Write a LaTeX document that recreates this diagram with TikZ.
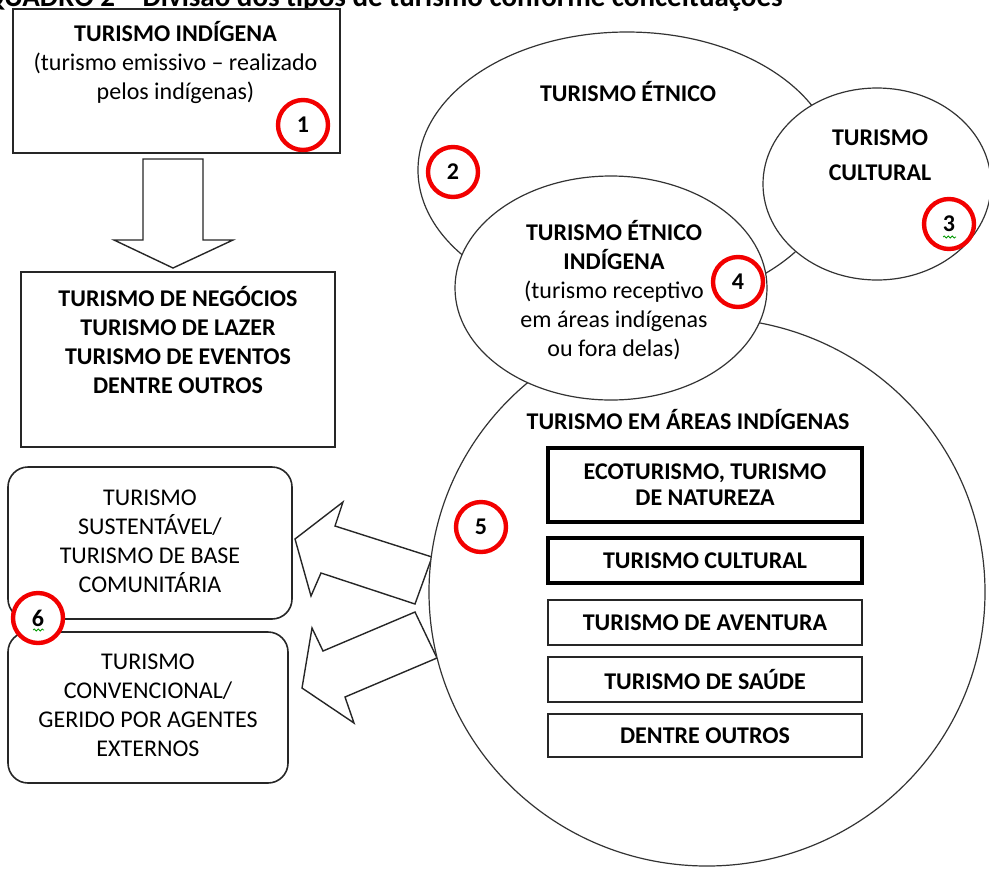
\documentclass[tikz,border=0pt]{standalone}
\usepackage{fontspec}
\setmainfont{Carlito}
\usetikzlibrary{shapes.geometric,decorations.pathmorphing}

\begin{document}
\begin{tikzpicture}[x=0.5pt,y=-0.5pt,
        every node/.style={font=\fontsize{12}{14.5}\selectfont, inner sep=0pt},
        caixa/.style={draw=black!85, line width=0.8pt, fill=white},
        grossa/.style={draw=black, line width=2pt, fill=white},
        arredondada/.style={draw=black!85, line width=0.8pt, fill=white, rounded corners=10pt},
        elipse/.style={ellipse, draw=black!80, line width=0.6pt, fill=white},
        seta/.style={draw=black!85, line width=0.7pt, fill=white, line join=miter},
        numero/.style={circle, draw=red!95!black, line width=2.2pt, fill=white,
                       minimum size=25pt, font=\fontsize{12}{14}\selectfont\bfseries},
        texto/.style={align=center},
        ondulado/.style={draw=green!60!black, line width=0.4pt, decorate,
                         decoration={snake, amplitude=0.5pt, segment length=2pt}}]

        \clip (0,0) rectangle (989,868);

        \node[anchor=base east, font=\fontsize{14.5}{16}\selectfont\bfseries] (titulo) at (783,6)
            {QUADRO 2 – Divisão dos tipos de turismo conforme conceituações};

        % lado esquerdo
        \node[caixa, minimum width=163.5pt, minimum height=72pt] (indigena) at (176.5,81) {};
        \node[texto] (tindigena) at (175.5,62.5)
            {\textbf{TURISMO INDÍGENA}\\(turismo emissivo – realizado\\pelos indígenas)};
        \node[numero] (n1) at (303,125) {1};

        \path[seta] (143,159) -- (203,159) -- (203,240) -- (233,240) -- (173,268)
            -- (114,240) -- (143,240) -- cycle;

        \node[caixa, minimum width=157pt, minimum height=87.5pt] (negocios) at (178,359.5) {};
        \node[texto, font=\fontsize{12}{14.5}\selectfont\bfseries] (tnegocios) at (178,340)
            {TURISMO DE NEGÓCIOS\\TURISMO DE LAZER\\TURISMO DE EVENTOS\\DENTRE OUTROS};

        % elipses de cima
        \node[elipse, minimum width=209pt, minimum height=138pt] (etnico) at (627,170) {};
        \node[font=\fontsize{12}{14}\selectfont\bfseries] (tetnico) at (628,92) {TURISMO ÉTNICO};
        \node[numero] (n2) at (453,172) {2};

        \node[elipse, minimum width=114pt, minimum height=96pt] (cultural) at (877,184) {};
        \node[texto, font=\fontsize{12}{17.5}\selectfont\bfseries] (tcultural) at (880,155)
            {TURISMO\\CULTURAL};
        \node[numero] (n3) at (949,224) {3};
        \path[ondulado] (943,237) -- (956,237);

        % setas para os dois modelos
        \path[seta] (432,557) -- (335,526) -- (343,502) -- (295,539) -- (311,596)
            -- (321,573) -- (415,604) -- cycle;
        \path[seta] (415,612) -- (323,651) -- (312,628) -- (302,688) -- (354,723)
            -- (345,697) -- (437,658) -- cycle;

        \node[arredondada, minimum width=142pt, minimum height=76pt] (sustentavel) at (150,543) {};
        \node[texto] (tsustentavel) at (150,541.5)
            {TURISMO\\SUSTENTÁVEL/\\TURISMO DE BASE\\COMUNITÁRIA};
        \node[arredondada, minimum width=140pt, minimum height=75.5pt] (convencional) at (148,707.5) {};
        \node[texto] (tconvencional) at (148,705)
            {TURISMO\\CONVENCIONAL/\\GERIDO POR AGENTES\\EXTERNOS};
        \node[numero] (n6) at (38,618) {6};
        \path[ondulado] (33,630) -- (44,630);

        % turismo em areas indigenas
        \node[elipse, minimum width=278pt, minimum height=274pt] (areas) at (707,592) {};
        \node[font=\fontsize{12}{14}\selectfont\bfseries] (tareas) at (688,419)
            {TURISMO EM ÁREAS INDÍGENAS};
        \node[numero] (n5) at (481,527) {5};

        \begin{scope}[every node/.append style={font=\fontsize{12}{13}\selectfont\bfseries,
                      minimum width=157pt, texto}]
            \node[grossa, minimum height=37pt] (eco) at (705,485) {ECOTURISMO, TURISMO\\DE NATUREZA};
            \node[grossa, minimum height=22.5pt] (cult) at (705,560.5) {TURISMO CULTURAL};
            \node[caixa, minimum height=22.5pt] (aventura) at (705,622.5) {TURISMO DE AVENTURA};
            \node[caixa, minimum height=22.5pt] (saude) at (705,679.5) {TURISMO DE SAÚDE};
            \node[caixa, minimum height=21.5pt] (outros) at (705,735.5) {DENTRE OUTROS};
        \end{scope}

        % etnico indigena por cima
        \node[elipse, minimum width=156pt, minimum height=112pt] (etnicoind) at (611,288) {};
        \node[texto] (tetnicoind) at (614,290)
            {\textbf{TURISMO ÉTNICO}\\\textbf{INDÍGENA}\\(turismo receptivo\\em áreas indígenas\\ou fora delas)};
        \node[numero] (n4) at (738,282) {4};
\end{tikzpicture}
\end{document}
